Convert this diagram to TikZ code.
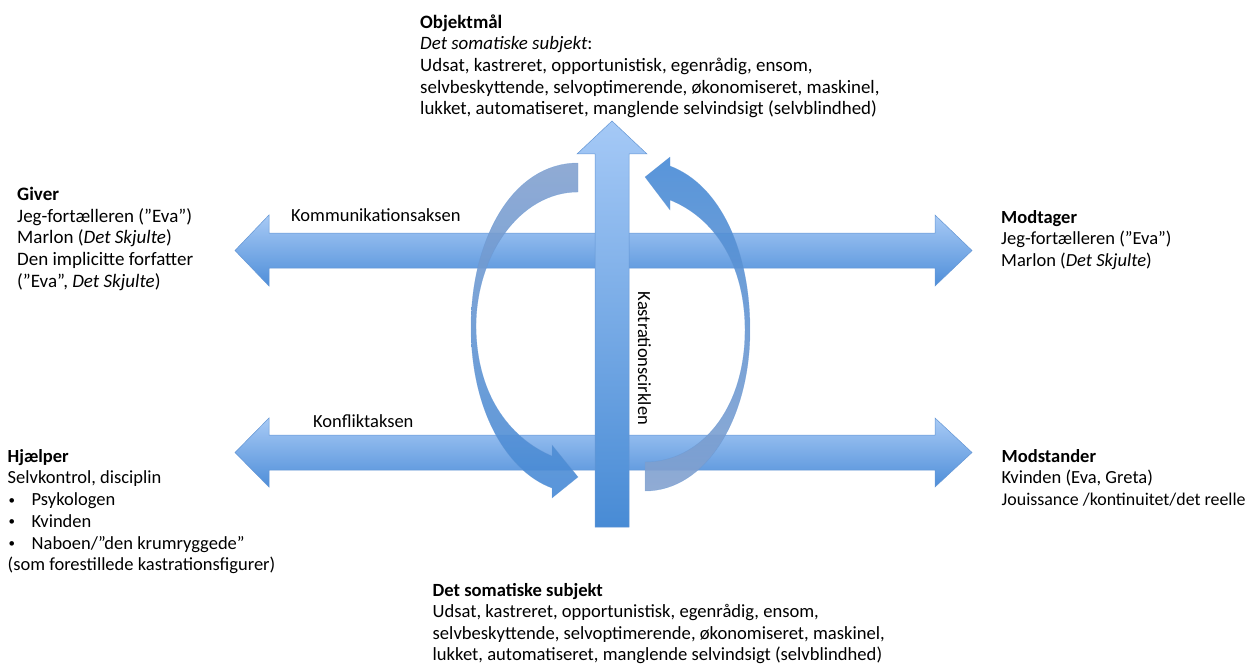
\documentclass[tikz,border=0pt]{standalone}
\usepackage{fontspec}
\usepackage{graphicx}
\setmainfont{Carlito}
\definecolor{hTop}{RGB}{168,202,245}
\definecolor{hBot}{RGB}{78,142,217}
\definecolor{hLine}{RGB}{100,150,212}
\definecolor{vTop}{RGB}{165,201,246}
\definecolor{vBot}{RGB}{72,139,213}
\definecolor{cGray}{RGB}{132,162,207}
\definecolor{cBlue}{RGB}{70,138,214}
\newcommand{\fst}{\rule{0pt}{16pt}}
\newcommand{\bul}{\makebox[24pt][l]{\hspace{1pt}\raisebox{1.5pt}{\scalebox{0.7}{•}}}}
\begin{document}
\begin{tikzpicture}[x=1pt,y=-1pt,
  txt/.style={anchor=north west, inner sep=0pt, align=left, font=\fontsize{18.5}{21.7}\selectfont},
  lbl/.style={anchor=base west, inner sep=0pt, font=\fontsize{18.5}{21.7}\selectfont},
  harrow/.style={draw=hLine, line width=0.5pt, top color=hTop, bottom color=hBot},
  varrow/.style={draw=hLine, line width=0.5pt, top color=vTop, bottom color=vBot},
  curvL/.style={draw=hLine, line width=0.4pt, top color=cGray, bottom color=cBlue, fill opacity=0.9, draw opacity=0.5},
  curvR/.style={draw=hLine, line width=0.4pt, top color=cBlue, bottom color=cGray, fill opacity=0.9, draw opacity=0.5}
]
\useasboundingbox (0,0) rectangle (1250,666);

% horizontal double arrows
\path[harrow] (235,250.5) -- (269,215) -- (269,233) -- (935,233) -- (935,215) -- (972,250.5)
  -- (935,286) -- (935,268) -- (269,268) -- (269,286) -- cycle;
\path[harrow] (235,452.5) -- (269,418) -- (269,435) -- (935,435) -- (935,418) -- (972,452.5)
  -- (935,487) -- (935,470) -- (269,470) -- (269,487) -- cycle;

% vertical arrow
\path[varrow] (612,121) -- (647,154) -- (629,154) -- (629,527) -- (595,527) -- (595,154) -- (577,154) -- cycle;

% left curved arrow (top -> bottom)
\path[curvL] (578,163) .. controls (512,163) and (471,240) .. (471,327)
  .. controls (471,412) and (508,472) .. (552,488)
  -- (552,498) -- (578,477) -- (552,445) -- (552,456)
  .. controls (514,440) and (477,400) .. (476,327)
  .. controls (476,255) and (520,192) .. (578,192) -- cycle;

% right curved arrow (bottom -> top)
\path[curvR] (670,166) .. controls (720,185) and (750,250) .. (750,330)
  .. controls (750,420) and (705,491) .. (645,491)
  -- (645,462)
  .. controls (700,462) and (745,410) .. (745,330)
  .. controls (745,265) and (715,218) .. (670,200)
  -- (670,210) -- (645,177) -- (670,157) -- cycle;

% axis labels
\node[lbl] (komm) at (291,221) {Kommunikationsaksen};
\node[lbl] (konf) at (313,427) {Konfliktaksen};
\node[lbl, rotate=-90] (kast) at (638,291.5) {Kastrationscirklen};

% text blocks
\node[txt, font=\fontsize{18.9}{21.7}\selectfont] (objekt) at (420,12) {\fst\textbf{Objektmål}\\
  \textit{Det somatiske subjekt}:\\
  Udsat, kastreret, opportunistisk, egenrådig, ensom,\\
  selvbeskyttende, selvoptimerende, økonomiseret, maskinel,\\
  lukket, automatiseret, manglende selvindsigt (selvblindhed)};

\node[txt, font=\fontsize{19}{21.8}\selectfont] (giver) at (17,184) {\fst\textbf{Giver}\\
  Jeg-fortælleren (”Eva”)\\
  Marlon (\textit{Det Skjulte})\\
  Den implicitte forfatter\\
  (”Eva”, \textit{Det Skjulte})};

\node[txt] (modtager) at (1001,207) {\fst\textbf{Modtager}\\
  Jeg-fortælleren (”Eva”)\\
  Marlon (\textit{Det Skjulte})};

\node[txt] (hjaelper) at (7.5,446) {\fst\textbf{Hjælper}\\
  Selvkontrol, disciplin\\
  \bul Psykologen\\
  \bul Kvinden\\
  \bul Naboen/”den krumryggede”\\
  (som forestillede kastrationsfigurer)};

\node[txt] (modstander) at (1001.5,446) {\fst\textbf{Modstander}\\
  Kvinden (Eva, Greta)\\
  {\fontsize{17.9}{21.7}\selectfont Jouissance /kontinuitet/det reelle}};

\node[txt, font=\fontsize{18.6}{21.2}\selectfont] (subjekt) at (432.5,580.5) {\fst\textbf{Det somatiske subjekt}\\
  Udsat, kastreret, opportunistisk, egenrådig, ensom,\\
  selvbeskyttende, selvoptimerende, økonomiseret, maskinel,\\
  lukket, automatiseret, manglende selvindsigt (selvblindhed)};
\end{tikzpicture}
\end{document}
